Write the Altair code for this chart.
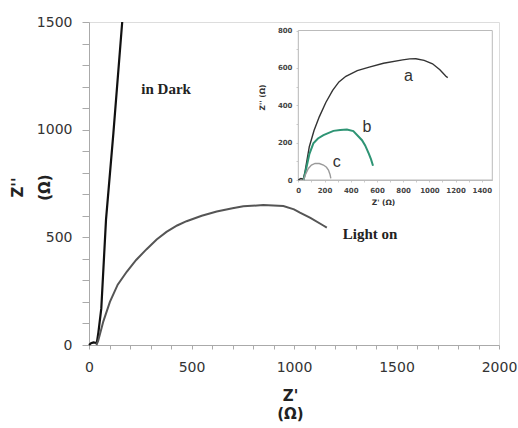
import altair as alt
import pandas as pd

# ---- main chart data ----
dark_x = [0, 10, 22, 38, 46, 60, 83, 119, 162]
dark_y = [0, 8, 12, 9, 60, 170, 582, 984, 1500]
light_x = [36, 45, 70, 102, 140, 184, 230, 281, 330, 378, 430, 476, 550, 623, 700, 753, 850, 948, 1000, 1029, 1080, 1143, 1160]
light_y = [0, 20, 110, 200, 280, 340, 395, 445, 490, 525, 555, 575, 600, 620, 635, 644, 650, 645, 630, 615, 590, 555, 545]
ann_labels = ["in Dark", "Light on"]
ann_x = [376, 1371]
ann_y = [1189, 517]

# ---- inset data ----
a_x = [0, 10, 20, 38, 50, 84, 120, 160, 210, 262, 310, 363, 450, 541, 650, 796, 850, 897, 960, 1024, 1080, 1126, 1140]
a_y = [0, 5, 8, 5, 40, 178, 265, 338, 415, 480, 525, 555, 585, 604, 625, 643, 648, 649, 640, 622, 590, 555, 548]
b_x = [40, 60, 85, 115, 150, 192, 268, 320, 371, 420, 486, 510, 537, 555, 570]
b_y = [0, 60, 140, 196, 222, 240, 263, 268, 270, 262, 213, 185, 142, 110, 76]
c_x = [40, 55, 77, 100, 128, 160, 192, 215, 230, 242, 248]
c_y = [0, 30, 62, 80, 89, 88, 80, 68, 53, 30, 9]
inset_labels = ["a", "b", "c"]
inset_lx = [841, 524, 294]
inset_ly = [555, 284, 98]

W, H = 410, 323

def df(xs, ys):
    return pd.DataFrame({"x": xs, "y": ys, "i": list(range(len(xs)))})

# ---- main scales/axes ----
mx_scale = alt.Scale(domain=[0, 2000], nice=False, zero=False)
my_scale = alt.Scale(domain=[0, 1500], nice=False, zero=False)
mx_axis = alt.Axis(
    values=list(range(0, 2001, 100)), format="d",
    labelExpr="datum.value % 500 === 0 ? datum.label : ''",
    title=["Z'", "(Ω)"], titleFont="DejaVu Sans", titleFontWeight="bold",
    titleFontSize=15, titleColor="#222", titleLineHeight=18,
    titleX=201, titleY=50, titleBaseline="middle", titleAlign="center",
    labelFont="DejaVu Sans", labelFontSize=14, labelColor="#333",
    labelPadding=11, tickSize=4, tickColor="#aaa", domainColor="#aaa",
    grid=False, labelFlush=False, labelOverlap=False, labelBound=False,
)
my_axis = alt.Axis(
    values=list(range(0, 1501, 100)), format="d",
    labelExpr="datum.value % 500 === 0 ? datum.label : ''",
    title=["Z''", "(Ω)"], titleFont="DejaVu Sans", titleFontWeight="bold",
    titleFontSize=15, titleColor="#222", titleLineHeight=27,
    titleX=-72, titleY=165, titleBaseline="middle", titleAlign="center", titleAngle=270,
    labelFont="DejaVu Sans", labelFontSize=14, labelColor="#333",
    labelPadding=10, tickSize=7, tickColor="#aaa", domainColor="#aaa",
    grid=False, labelFlush=False, labelOverlap=False, labelBound=False,
)

def MX(field="x"):
    return alt.X(f"{field}:Q", scale=mx_scale, axis=mx_axis)

def MY(field="y"):
    return alt.Y(f"{field}:Q", scale=my_scale, axis=my_axis)

dark = alt.Chart(df(dark_x, dark_y)).mark_line(color="#111", strokeWidth=2.2).encode(
    x=MX(), y=MY(), order="i:Q")
light = alt.Chart(df(light_x, light_y)).mark_line(color="#555", strokeWidth=2).encode(
    x=MX(), y=MY(), order="i:Q")
ann = alt.Chart(pd.DataFrame({"t": ann_labels, "x": ann_x, "y": ann_y})).mark_text(
    font="Liberation Serif", fontWeight="bold", fontSize=15, color="#222"
).encode(x=MX(), y=MY(), text="t:N")

main = alt.layer(dark, light, ann)

# ---- inset scales/axes ----
ix_scale = alt.Scale(domain=[0, 1480], range=[209.3, 403.3], nice=False, zero=False)
iy_scale = alt.Scale(domain=[0, 800], range=[158, 8.5], nice=False, zero=False)
ix_axis = alt.Axis(
    orient="bottom", offset=-165,
    values=list(range(0, 1401, 100)), format="d",
    labelExpr="datum.value % 200 === 0 ? datum.label : ''",
    title="Z' (Ω)", titleFont="DejaVu Sans", titleFontWeight="bold", titleFontSize=7.5,
    titleColor="#333", titleX=294, titleY=22, titleBaseline="middle", titleAlign="center",
    labelFont="DejaVu Sans", labelFontWeight="bold", labelFontSize=7, labelColor="#444",
    labelPadding=4, tickSize=2, tickColor="#ccc", domainColor="#bbb",
    grid=False, labelFlush=False, labelOverlap=False, labelBound=False,
)
iy_axis = alt.Axis(
    orient="left", offset=-209,
    values=list(range(0, 801, 100)), format="d",
    labelExpr="datum.value % 200 === 0 ? datum.label : ''",
    title="Z'' (Ω)", titleFont="DejaVu Sans", titleFontWeight="bold", titleFontSize=7.5,
    titleColor="#333", titleX=-36, titleY=75, titleBaseline="middle", titleAlign="center", titleAngle=270,
    labelFont="DejaVu Sans", labelFontWeight="bold", labelFontSize=7, labelColor="#444",
    labelPadding=4, tickSize=2, tickColor="#ccc", domainColor="#bbb",
    grid=False, labelFlush=False, labelOverlap=False, labelBound=False,
)

def IX(field="x"):
    return alt.X(f"{field}:Q", scale=ix_scale, axis=ix_axis)

def IY(field="y"):
    return alt.Y(f"{field}:Q", scale=iy_scale, axis=iy_axis)

frame = alt.Chart(pd.DataFrame({"x": [0], "x2": [1480], "y": [0], "y2": [800]})).mark_rect(
    fill="white", stroke="#bbb", strokeWidth=1
).encode(x=IX(), x2="x2:Q", y=IY(), y2="y2:Q")
line_a = alt.Chart(df(a_x, a_y)).mark_line(color="#333", strokeWidth=1.4).encode(
    x=IX(), y=IY(), order="i:Q")
line_b = alt.Chart(df(b_x, b_y)).mark_line(color="#2e9474", strokeWidth=2).encode(
    x=IX(), y=IY(), order="i:Q")
line_c = alt.Chart(df(c_x, c_y)).mark_line(color="#9a9a9a", strokeWidth=1.4).encode(
    x=IX(), y=IY(), order="i:Q")
ilab = alt.Chart(pd.DataFrame({"t": inset_labels, "x": inset_lx, "y": inset_ly})).mark_text(
    font="Liberation Sans", fontSize=16, color="#333"
).encode(x=IX(), y=IY(), text="t:N")

inset = alt.layer(frame, line_a, line_b, line_c, ilab)

chart = alt.layer(main, inset).resolve_scale(x="independent", y="independent").properties(
    width=W, height=H,
    padding={"left": 89, "top": 22, "right": 19, "bottom": 83},
    autosize=alt.AutoSizeParams(type="none"),
).configure_view(stroke="#aaa", strokeWidth=1).configure(background="white")

chart.save("out.html", embed_options={"renderer": "svg", "actions": False})
